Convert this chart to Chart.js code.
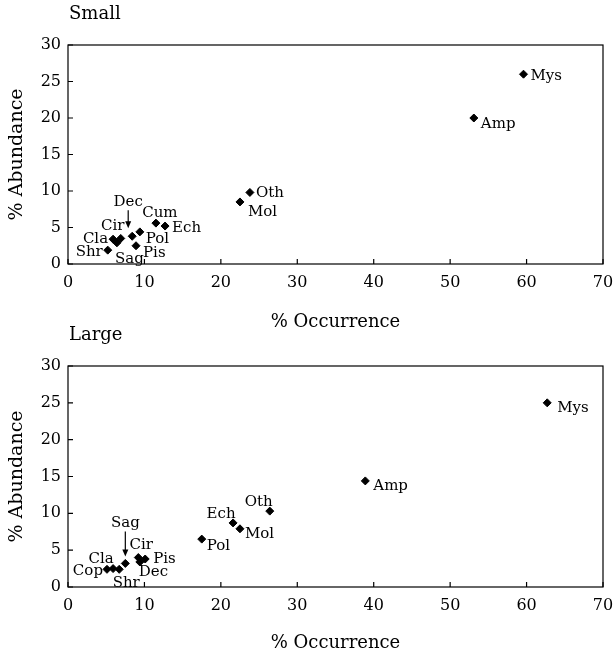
<!DOCTYPE html>
<html><head><meta charset="utf-8">
<script src="https://cdn.jsdelivr.net/npm/chart.js@4.4.1/dist/chart.umd.min.js"></script>
<style>
html,body{margin:0;padding:0;background:#fff;width:616px;height:654px;overflow:hidden}
.wrap{position:absolute;left:0;width:616px}
</style></head><body>
<div class="wrap" style="top:0;height:335px"><canvas id="cA" width="616" height="335"></canvas></div>
<div class="wrap" style="top:315px;height:339px"><canvas id="cB" width="616" height="339"></canvas></div>
<script>
// ---- data ----
const xTicks = [0, 10, 20, 30, 40, 50, 60, 70];
const yTicks = [0, 5, 10, 15, 20, 25, 30];

const smallLabels = ["Mys","Amp","Oth","Mol","Cum","Ech","Pol","Dec","Pis","Cir","Cla","Sag","Shr"];
const smallOcc    = [59.6, 53.1, 23.8, 22.5, 11.5, 12.7, 9.4, 8.4, 8.9, 6.9, 5.9, 6.4, 5.2];
const smallAbu    = [26.0, 20.0, 9.8, 8.5, 5.6, 5.2, 4.4, 3.8, 2.5, 3.5, 3.4, 2.9, 1.9];

const largeLabels = ["Mys","Amp","Oth","Ech","Mol","Pol","Cir","Pis","Dec","Sag","Cla","Cop","Shr"];
const largeOcc    = [62.7, 38.9, 26.4, 21.6, 22.5, 17.5, 9.2, 10.1, 9.4, 7.5, 5.9, 5.1, 6.7];
const largeAbu    = [25.0, 14.4, 10.3, 8.7, 7.9, 6.5, 4.0, 3.8, 3.4, 3.2, 2.5, 2.4, 2.4];

// ---- label placement (style only) ----
const smallPlace = {
  Mys:[7,2,'left'], Amp:[7,6,'left'], Oth:[6,1,'left'], Mol:[8,10,'left'],
  Cum:[4,-10,'center'], Ech:[7,2,'left'], Pol:[6,7,'left'], Dec:[-4,-34,'center',-26,-8],
  Pis:[7,7,'left'], Cir:[-8,-12,'center'], Cla:[-5,0,'right'], Sag:[-2,16,'left'], Shr:[-5,2,'right']
};
const largePlace = {
  Mys:[10,5,'left'], Amp:[8,5,'left'], Oth:[-11,-9,'center'], Ech:[-12,-9,'center'],
  Mol:[5,5,'left'], Pol:[5,7,'left'], Cir:[3,-12,'center'], Pis:[8,0,'left'],
  Dec:[-1,10,'left'], Sag:[0,-40,'center',-32,-7], Cla:[-12,-9,'center'],
  Cop:[-4,2,'right'], Shr:[7,14,'center']
};

const FONT = "'DejaVu Serif', serif";

function makeChart(id, title, labels, occ, abu, place, pad, xAxisH, titleY, xTitlePad) {
  const pts = occ.map((x, i) => ({x: x, y: abu[i]}));
  const deco = {
    id: 'deco',
    afterDatasetsDraw(chart) {
      const ctx = chart.ctx, a = chart.chartArea;
      const xs = chart.scales.x, ys = chart.scales.y;
      ctx.save();
      ctx.strokeStyle = '#000';
      ctx.lineWidth = 1.2;
      ctx.strokeRect(a.left, a.top, a.right - a.left, a.bottom - a.top);
      ctx.beginPath();
      xTicks.forEach(v => { const p = xs.getPixelForValue(v); ctx.moveTo(p, a.bottom); ctx.lineTo(p, a.bottom - 5); });
      yTicks.forEach(v => { const p = ys.getPixelForValue(v); ctx.moveTo(a.left, p); ctx.lineTo(a.left + 5, p); });
      ctx.stroke();
      // point labels
      ctx.fillStyle = '#000';
      ctx.font = "15px " + FONT;
      ctx.textBaseline = 'middle';
      const meta = chart.getDatasetMeta(0);
      meta.data.forEach((el, i) => {
        const pl = place[labels[i]];
        ctx.textAlign = pl[2];
        ctx.fillText(labels[i], el.x + pl[0], el.y + pl[1]);
        if (pl.length > 3) {
          const ax = el.x + pl[0];
          const y1 = el.y + pl[3], y2 = el.y + pl[4];
          ctx.lineWidth = 1.2;
          ctx.beginPath(); ctx.moveTo(ax, y1); ctx.lineTo(ax, y2 - 4); ctx.stroke();
          ctx.beginPath(); ctx.moveTo(ax, y2); ctx.lineTo(ax - 3, y2 - 7); ctx.lineTo(ax + 3, y2 - 7); ctx.closePath(); ctx.fill();
        }
      });
      // panel title
      ctx.font = "18px " + FONT;
      ctx.textAlign = 'left';
      ctx.fillText(title, a.left + 1, titleY);
      ctx.restore();
    }
  };
  return new Chart(document.getElementById(id), {
    type: 'scatter',
    data: { datasets: [{ data: pts, backgroundColor: '#000', borderColor: '#000',
      pointStyle: 'rectRot', pointRadius: 4, pointHoverRadius: 4 }] },
    options: {
      responsive: false, animation: false,
      layout: { padding: pad },
      plugins: { legend: { display: false }, tooltip: { enabled: false }, title: { display: false } },
      scales: {
        x: {
          type: 'linear', min: 0, max: 70,
          afterBuildTicks: s => { s.ticks = xTicks.map(v => ({value: v})); },
          afterFit: s => { s.height = xAxisH; s.paddingLeft = 0; s.paddingRight = 0; },
          grid: { drawOnChartArea: false, drawTicks: false },
          border: { display: false },
          ticks: { color: '#000', font: { family: FONT, size: 16 }, padding: 9, maxRotation: 0 },
          title: { display: true, text: '% Occurrence', color: '#000',
            font: { family: FONT, size: 18 }, padding: { top: 0, bottom: xTitlePad } }
        },
        y: {
          type: 'linear', min: 0, max: 30,
          afterBuildTicks: s => { s.ticks = yTicks.map(v => ({value: v})); },
          afterFit: s => { s.width = 68; s.paddingTop = 0; s.paddingBottom = 0; },
          grid: { drawOnChartArea: false, drawTicks: false },
          border: { display: false },
          ticks: { color: '#000', font: { family: FONT, size: 16 }, padding: 7 },
          title: { display: true, text: '% Abundance', color: '#000',
            font: { family: FONT, size: 19 }, padding: { top: 6, bottom: 0 } }
        }
      }
    },
    plugins: [deco]
  });
}

makeChart('cA', 'Small', smallLabels, smallOcc, smallAbu, smallPlace,
  { top: 45, left: 0, right: 13, bottom: 0 }, 71, 14, 2);
makeChart('cB', 'Large', largeLabels, largeOcc, largeAbu, largePlace,
  { top: 51, left: 0, right: 13, bottom: 0 }, 67, 20, 0);
</script>
</body></html>
